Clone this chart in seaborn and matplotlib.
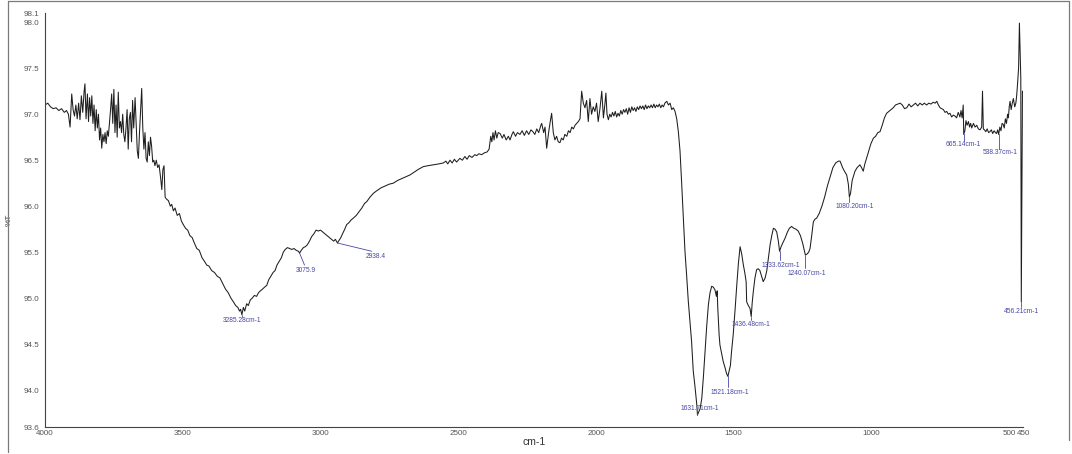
import matplotlib
matplotlib.use("Agg")
import matplotlib.pyplot as plt
from matplotlib.lines import Line2D
import numpy as np
import pandas as pd
import seaborn as sns

# ---- spectrum: wavenumber (cm-1) and transmittance (%T) ----
wavenumber = [
    4000, 3990, 3980, 3970, 3960, 3950, 3940, 3930, 3922, 3915, 3909, 3903, 3898, 3893, 3888,
    3883, 3878, 3873, 3868, 3863, 3858, 3855, 3851, 3846, 3842, 3838, 3834, 3830, 3826, 3822,
    3818, 3814, 3810, 3806, 3802, 3798, 3794, 3790, 3786, 3782, 3778, 3774, 3770, 3766, 3762,
    3758, 3754, 3750, 3746, 3742, 3738, 3734, 3730, 3726, 3722, 3718, 3714, 3710, 3706, 3702,
    3698, 3694, 3690, 3686, 3682, 3678, 3673, 3669, 3665, 3661, 3657, 3653, 3649, 3645, 3641,
    3637, 3633, 3629, 3625, 3621, 3617, 3613, 3609, 3605, 3601, 3596, 3591, 3586, 3580, 3576,
    3572, 3568, 3564, 3560, 3552, 3545, 3540, 3534, 3528, 3520, 3512, 3505, 3498, 3490, 3482,
    3474, 3466, 3458, 3449, 3440, 3430, 3421, 3413, 3405, 3395, 3385, 3375, 3365, 3355, 3345,
    3335, 3325, 3316, 3308, 3300, 3294, 3290, 3285.28, 3280, 3275, 3268, 3262, 3255, 3248, 3240,
    3232, 3225, 3218, 3210, 3203, 3195, 3188, 3180, 3172, 3165, 3158, 3150, 3142, 3135, 3128,
    3120, 3112, 3104, 3096, 3088, 3080, 3075.9, 3070, 3062, 3055, 3048, 3040, 3032, 3024, 3016,
    3008, 3000, 2992, 2984, 2976, 2968, 2960, 2952, 2946, 2938.4, 2932, 2926, 2920, 2912, 2905,
    2897, 2889, 2881, 2870, 2860, 2850, 2840, 2832, 2820, 2808, 2795, 2780, 2765, 2750, 2736,
    2720, 2705, 2690, 2675, 2660, 2645, 2627, 2610, 2590, 2570, 2554, 2545, 2538, 2530, 2522,
    2514, 2506, 2494, 2485, 2476, 2468, 2460, 2450, 2440, 2433, 2425, 2415, 2405, 2395, 2388,
    2382, 2378, 2374, 2370, 2365, 2360, 2355, 2348, 2340, 2334, 2326, 2318, 2312, 2305, 2300,
    2292, 2285, 2276, 2268, 2260, 2252, 2244, 2236, 2229, 2222, 2215, 2208, 2200, 2197, 2190,
    2185, 2179, 2172, 2166, 2161, 2155, 2149, 2143, 2137, 2131, 2125, 2119, 2113, 2106, 2100,
    2094, 2088, 2082, 2076, 2070, 2064, 2058, 2052, 2046, 2040, 2034, 2028, 2022, 2016, 2010,
    2004, 1998, 1992, 1986, 1979, 1973, 1968, 1964, 1960, 1955, 1950, 1945, 1940, 1935, 1930,
    1925, 1920, 1915, 1910, 1905, 1900, 1895, 1890, 1885, 1880, 1875, 1870, 1865, 1860, 1855,
    1850, 1845, 1840, 1835, 1830, 1825, 1820, 1815, 1810, 1805, 1800, 1795, 1790, 1785, 1780,
    1775, 1770, 1765, 1760, 1755, 1750, 1743, 1737, 1731, 1725, 1719, 1713, 1707, 1701, 1695,
    1689, 1683, 1677, 1671, 1665, 1659, 1653, 1647, 1641, 1634, 1631.71, 1622, 1616, 1610, 1604,
    1598, 1592, 1586, 1580, 1574, 1568, 1563, 1560, 1558, 1556, 1553, 1550, 1544, 1538, 1532,
    1526, 1521.18, 1516, 1512, 1508, 1502, 1495, 1489, 1483, 1477, 1471, 1465, 1460, 1455, 1453,
    1447, 1441, 1436.48, 1433, 1429, 1423, 1417, 1411, 1405, 1399, 1393, 1386, 1380, 1374, 1368,
    1362, 1356, 1350, 1344, 1338, 1333.62, 1328, 1322, 1314, 1305, 1298, 1290, 1282, 1274, 1266,
    1258, 1250, 1244, 1240.07, 1234, 1228, 1223, 1217, 1211, 1205, 1199, 1190, 1180, 1170, 1160,
    1150, 1140, 1130, 1120, 1114, 1105, 1098, 1090, 1084, 1080.20, 1076, 1070, 1065, 1060, 1052,
    1042, 1036, 1030, 1024, 1018, 1010, 1002, 993, 985, 977, 969, 961, 953, 945, 937,
    929, 921, 913, 905, 896, 888, 880, 872, 864, 856, 848, 840, 832, 824, 816,
    808, 800, 792, 784, 776, 769, 763, 757, 751, 745, 739, 733, 727, 721, 715,
    709, 703, 697, 691, 685, 679, 675, 671, 667, 665.14, 661, 657, 653, 648, 644,
    640, 636, 630, 624, 618, 612, 606, 600, 597, 594, 590, 585, 580, 575, 570,
    565, 560, 555, 550, 546, 542, 538.37, 534, 530, 526, 522, 518, 514, 510, 506,
    503, 500, 497, 493, 489, 485, 480, 476, 473, 470, 466, 463, 460, 458, 456.21,
    454, 452, 450,
]

transmittance = [
    97.10, 97.12, 97.08, 97.06, 97.07, 97.04, 97.06, 97.02, 97.04, 97.00, 96.86, 97.22, 97.05, 96.98, 97.10,
    96.95, 97.12, 96.94, 97.20, 97.02, 97.25, 97.33, 96.95, 97.22, 96.92, 97.18, 96.98, 97.20, 96.90, 97.10,
    96.82, 97.05, 96.85, 97.00, 96.72, 96.85, 96.63, 96.78, 96.70, 96.80, 96.68, 96.82, 96.76, 96.90, 97.05,
    97.22, 96.90, 97.27, 96.80, 97.10, 96.75, 97.24, 96.85, 96.92, 96.80, 97.00, 96.78, 96.70, 96.85, 97.05,
    96.62, 96.95, 97.02, 96.70, 97.15, 96.85, 97.18, 96.90, 96.60, 96.52, 96.80, 97.05, 97.28, 96.85, 96.62,
    96.80, 96.52, 96.48, 96.70, 96.55, 96.75, 96.65, 96.48, 96.50, 96.44, 96.50, 96.42, 96.45, 96.30, 96.18,
    96.40, 96.44, 96.10, 96.08, 96.06, 96.00, 96.02, 95.95, 95.98, 95.90, 95.92, 95.84, 95.80, 95.76, 95.74,
    95.68, 95.66, 95.60, 95.54, 95.52, 95.44, 95.40, 95.36, 95.35, 95.30, 95.28, 95.24, 95.22, 95.16, 95.10,
    95.06, 95.00, 94.96, 94.92, 94.90, 94.86, 94.88, 94.82, 94.90, 94.86, 94.94, 94.92, 94.98, 95.00, 95.03,
    95.02, 95.06, 95.08, 95.10, 95.12, 95.14, 95.20, 95.24, 95.28, 95.30, 95.36, 95.40, 95.44, 95.50, 95.53,
    95.55, 95.54, 95.53, 95.54, 95.52, 95.51, 95.49, 95.52, 95.55, 95.56, 95.58, 95.62, 95.67, 95.70, 95.74,
    95.73, 95.74, 95.72, 95.70, 95.68, 95.66, 95.64, 95.62, 95.64, 95.60, 95.63, 95.66, 95.70, 95.75, 95.80,
    95.82, 95.85, 95.87, 95.90, 95.94, 95.98, 96.03, 96.05, 96.10, 96.14, 96.17, 96.20, 96.22, 96.24, 96.25,
    96.28, 96.30, 96.32, 96.34, 96.37, 96.40, 96.43, 96.44, 96.45, 96.46, 96.47, 96.49, 96.46, 96.50, 96.47,
    96.51, 96.48, 96.52, 96.50, 96.54, 96.51, 96.55, 96.53, 96.56, 96.55, 96.57, 96.56, 96.58, 96.59, 96.62,
    96.76, 96.70, 96.80, 96.72, 96.82, 96.74, 96.80, 96.79, 96.74, 96.78, 96.72, 96.76, 96.72, 96.78, 96.81,
    96.76, 96.80, 96.78, 96.82, 96.77, 96.82, 96.78, 96.83, 96.81, 96.78, 96.84, 96.80, 96.88, 96.90, 96.80,
    96.86, 96.63, 96.80, 96.92, 97.01, 96.80, 96.72, 96.76, 96.70, 96.69, 96.74, 96.72, 96.78, 96.76, 96.82,
    96.80, 96.86, 96.84, 96.88, 96.90, 96.92, 96.95, 97.25, 97.12, 97.07, 97.15, 96.92, 97.17, 97.00, 97.08,
    97.03, 97.12, 96.92, 97.05, 97.25, 96.96, 97.10, 97.23, 97.00, 96.94, 97.00, 96.97, 97.02, 96.98, 97.03,
    96.97, 97.01, 96.98, 97.04, 97.00, 97.05, 97.02, 97.06, 97.00, 97.07, 97.02, 97.08, 97.04, 97.07, 97.03,
    97.08, 97.05, 97.09, 97.06, 97.09, 97.05, 97.10, 97.06, 97.09, 97.07, 97.10, 97.07, 97.11, 97.07, 97.10,
    97.08, 97.11, 97.07, 97.10, 97.08, 97.12, 97.14, 97.10, 97.12, 97.05, 97.07, 97.03, 96.95, 96.81, 96.60,
    96.25, 95.87, 95.51, 95.25, 94.97, 94.75, 94.53, 94.21, 94.05, 93.84, 93.73, 93.80, 93.91, 94.15, 94.42,
    94.70, 94.93, 95.06, 95.13, 95.12, 95.09, 95.02, 95.08, 94.90, 94.78, 94.60, 94.49, 94.40, 94.31, 94.25,
    94.18, 94.15, 94.22, 94.27, 94.42, 94.60, 94.88, 95.14, 95.38, 95.56, 95.48, 95.36, 95.28, 95.18, 94.96,
    94.92, 94.89, 94.80, 94.95, 95.07, 95.22, 95.31, 95.32, 95.30, 95.24, 95.18, 95.22, 95.30, 95.44, 95.58,
    95.68, 95.76, 95.75, 95.72, 95.62, 95.51, 95.56, 95.60, 95.65, 95.72, 95.76, 95.78, 95.76, 95.75, 95.73,
    95.68, 95.60, 95.52, 95.47, 95.48, 95.50, 95.54, 95.68, 95.83, 95.86, 95.87, 95.92, 96.00, 96.10, 96.22,
    96.32, 96.42, 96.47, 96.49, 96.49, 96.42, 96.38, 96.34, 96.24, 96.10, 96.14, 96.28, 96.33, 96.38, 96.42,
    96.45, 96.42, 96.38, 96.46, 96.52, 96.60, 96.68, 96.74, 96.76, 96.80, 96.81, 96.88, 96.96, 97.01, 97.03,
    97.05, 97.07, 97.10, 97.11, 97.12, 97.10, 97.06, 97.07, 97.11, 97.08, 97.10, 97.12, 97.09, 97.12, 97.10,
    97.12, 97.10, 97.12, 97.11, 97.13, 97.12, 97.14, 97.10, 97.07, 97.06, 97.05, 97.02, 97.03, 97.00, 97.01,
    96.97, 96.99, 96.98, 96.96, 97.02, 96.97, 97.04, 96.96, 97.10, 96.78, 96.82, 96.93, 96.88, 96.92, 96.86,
    96.90, 96.85, 96.90, 96.86, 96.88, 96.84, 96.83, 96.86, 97.25, 96.84, 96.83, 96.81, 96.84, 96.80, 96.81,
    96.83, 96.79, 96.82, 96.80, 96.79, 96.83, 96.78, 96.86, 96.82, 96.90, 96.89, 96.85, 96.95, 96.90, 97.00,
    96.96, 97.08, 97.14, 97.05, 97.12, 97.17, 97.08, 97.12, 97.20, 97.32, 97.50, 97.99, 97.60, 97.39, 94.96,
    96.20, 97.25, 97.25,
]

# ---- labelled peaks ----
peak_wavenumbers = [3285.28, 3075.9, 2938.4, 1631.71, 1521.18, 1436.48,
                    1333.62, 1240.07, 1080.20, 665.14, 538.37, 456.21]
peak_labels = ["3285.28cm-1", "3075.9", "2938.4", "1631.71cm-1", "1521.18cm-1",
               "1436.48cm-1", "1333.62cm-1", "1240.07cm-1", "1080.20cm-1",
               "665.14cm-1", "538.37cm-1", "456.21cm-1"]

x_ticks = [4000, 3500, 3000, 2500, 2000, 1500, 1000, 500, 450]
y_ticks = [93.6, 94.0, 94.5, 95.0, 95.5, 96.0, 96.5, 97.0, 97.5, 98.0, 98.1]

# label layout: (leader end x, leader end y, text centre x, text centre y)
label_layout = [
    (3285.28, 94.80, 3286, 94.76),
    (3058, 95.36, 3052, 95.30),
    (2814, 95.51, 2800, 95.45),
    (1631.71, 93.76, 1622, 93.80),
    (1521.18, 94.03, 1513, 93.97),
    (1436.48, 94.76, 1437, 94.71),
    (1333.62, 95.41, 1328, 95.36),
    (1240.07, 95.33, 1235, 95.27),
    (1080.20, 96.05, 1060, 96.00),
    (665.14, 96.71, 668, 96.67),
    (538.37, 96.62, 533, 96.58),
    (456.21, 94.90, 454, 94.86),
]

sns.set_theme(style="white")
plt.rcParams["font.family"] = ["Liberation Sans", "DejaVu Sans"]

df = pd.DataFrame({"wavenumber": wavenumber, "T": transmittance})

fig = plt.figure(figsize=(10.72, 4.54), dpi=100)
ax = fig.add_axes([45 / 1072, 1 - 427 / 454, (1023 - 45) / 1072, (427 - 13) / 454])

sns.lineplot(data=df, x="wavenumber", y="T", sort=False, estimator=None,
             color="#1e1e1e", linewidth=0.75, ax=ax)

ax.set_xlim(4000, 450)
ax.set_ylim(93.6, 98.1)
ax.set_xticks(x_ticks)
ax.set_xticklabels([str(t) for t in x_ticks])
ax.set_yticks(y_ticks)
ax.set_yticklabels([f"{t:.1f}" for t in y_ticks])

ax.tick_params(axis="y", direction="out", length=3, width=0.7, colors="#555555",
               labelsize=5.8, pad=1)
ax.tick_params(axis="x", direction="in", length=3, width=0.7, colors="#555555",
               labelsize=5.8, pad=2)
for side in ("top", "right"):
    ax.spines[side].set_visible(False)
for side in ("left", "bottom"):
    ax.spines[side].set_color("#444444")
    ax.spines[side].set_linewidth(0.8)

ax.set_xlabel("cm-1", fontsize=7.5, color="#333333", labelpad=0)
ax.set_ylabel("%T", fontsize=6, color="#444444")
ax.yaxis.set_label_coords((13 - 45) / 978, 0.5)

# peak annotations
label_color = "#4646a6"
for wn, text, (lx, ly, tx, ty) in zip(peak_wavenumbers, peak_labels, label_layout):
    idx = wavenumber.index(wn)
    px, py = wavenumber[idx], transmittance[idx]
    ax.plot([px, lx], [py, ly], color=label_color, linewidth=0.6)
    ax.text(tx, ty, text, ha="center", va="center", fontsize=4.8, color=label_color)

# outer frame lines
frame_kw = dict(color="#7a7a7a", linewidth=0.9, transform=fig.transFigure)
fig.add_artist(Line2D([8 / 1072, 8 / 1072], [0.005, 1 - 1 / 454], **frame_kw))
fig.add_artist(Line2D([8 / 1072, 1069 / 1072], [1 - 1 / 454, 1 - 1 / 454], **frame_kw))
fig.add_artist(Line2D([1069 / 1072, 1069 / 1072], [0.03, 1 - 1 / 454], **frame_kw))

fig.savefig("out.png", dpi=100)
